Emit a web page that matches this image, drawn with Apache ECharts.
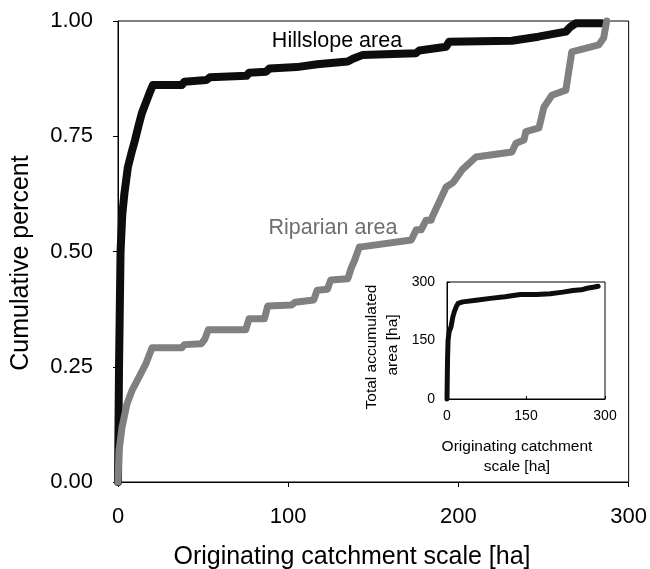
<!DOCTYPE html>
<html>
<head>
<meta charset="utf-8">
<script src="https://cdn.jsdelivr.net/npm/echarts@6/dist/echarts.min.js"></script>
<style>
html,body{margin:0;padding:0;background:#fff;}
#chart{width:650px;height:569px;}
</style>
</head>
<body>
<div id="chart"></div>
<script>
// Main chart: cumulative percent vs originating catchment scale [ha]
const hillslopeX = [0, 0.6, 1.5, 2.5, 3.8, 5.8, 8, 10, 12, 14, 17, 19, 20.5, 37.5, 39, 52, 54, 75.6, 77, 87, 89, 105, 117, 135, 138, 143.5, 175, 177, 192.8, 194.5, 231.4, 247, 263.1, 266, 268.9, 284.2];
const hillslopeY = [0, 0.25, 0.5, 0.58, 0.627, 0.683, 0.715, 0.742, 0.772, 0.80, 0.829, 0.848, 0.861, 0.861, 0.868, 0.872, 0.878, 0.881, 0.888, 0.89, 0.897, 0.90, 0.906, 0.912, 0.918, 0.926, 0.93, 0.936, 0.944, 0.955, 0.957, 0.966, 0.977, 0.988, 0.995, 0.995];

const riparianX = [0, 0.6, 2.3, 5.3, 8.2, 13.4, 16.3, 20, 37.5, 39, 49, 51, 53, 75, 77, 86, 88, 102, 104, 115, 117, 123, 125, 135, 137, 138.9, 141.8, 143, 172.3, 175.2, 178.1, 181, 184, 184.6, 192.8, 197, 202.1, 210.3, 231.4, 233.8, 238.5, 239.6, 247.3, 250.2, 254.9, 263.1, 266.6, 282.4, 285.3, 287.1];
const riparianY = [0, 0.067, 0.117, 0.17, 0.198, 0.235, 0.256, 0.291, 0.291, 0.298, 0.300, 0.310, 0.330, 0.330, 0.354, 0.354, 0.382, 0.384, 0.390, 0.395, 0.416, 0.418, 0.438, 0.441, 0.464, 0.48, 0.51, 0.51, 0.525, 0.547, 0.547, 0.568, 0.568, 0.575, 0.64, 0.65, 0.677, 0.705, 0.716, 0.735, 0.742, 0.76, 0.768, 0.813, 0.839, 0.85, 0.933, 0.948, 0.963, 1.0];

const mainXTicks = [0, 100, 200, 300];
const mainYTicks = ['0.00', '0.25', '0.50', '0.75', '1.00'];

// Inset: total accumulated area [ha] vs originating catchment scale [ha]
const insetX = [0, 0.5, 1, 2, 4, 7.6, 11, 14, 18, 21, 30, 55, 82, 110, 139, 170, 196, 220, 239, 255, 266, 280, 287];
const insetY = [0, 50, 100, 150, 172, 185, 210, 224, 238, 245, 249, 253, 258, 262, 268, 268, 270, 274, 278, 280, 284, 287, 289];
const insetTicks = [0, 150, 300];

const FONT = "'Liberation Sans', Arial, sans-serif";

function pairs(xs, ys) { return xs.map((x, i) => [x, ys[i]]); }

const chart = echarts.init(document.getElementById('chart'), null, {renderer: 'canvas'});

chart.setOption({
  animation: false,
  backgroundColor: '#ffffff',
  grid: [
    {left: 118, top: 21, width: 512, height: 461, show: true, borderColor: '#000', borderWidth: 1, backgroundColor: 'transparent'},
    {left: 447, top: 282, width: 158, height: 117, show: true, borderColor: '#000', borderWidth: 1, backgroundColor: 'transparent'}
  ],
  xAxis: [
    {
      gridIndex: 0, type: 'value', min: 0, max: 300, interval: 100,
      axisLine: {show: true, onZero: false, lineStyle: {color: '#000', width: 1}},
      axisTick: {show: true, inside: false, length: 5, lineStyle: {color: '#000'}},
      splitLine: {show: false},
      axisLabel: {fontSize: 22, fontFamily: FONT, color: '#000', margin: 24,
        formatter: v => mainXTicks.includes(v) ? String(v) : ''}
    },
    {
      gridIndex: 1, type: 'value', min: 0, max: 300, interval: 150,
      axisLine: {show: true, onZero: false, lineStyle: {color: '#000', width: 1}},
      axisTick: {show: true, inside: true, length: 3, lineStyle: {color: '#000'}},
      splitLine: {show: false},
      axisLabel: {fontSize: 14, fontFamily: FONT, color: '#000', margin: 10,
        formatter: v => insetTicks.includes(v) ? String(v) : ''}
    }
  ],
  yAxis: [
    {
      gridIndex: 0, type: 'value', min: 0, max: 1, interval: 0.25,
      axisLine: {show: true, onZero: false, lineStyle: {color: '#000', width: 1}},
      axisTick: {show: true, inside: false, length: 5, lineStyle: {color: '#000'}},
      splitLine: {show: false},
      axisLabel: {fontSize: 22, fontFamily: FONT, color: '#000', margin: 25,
        formatter: v => { const s = v.toFixed(2); return mainYTicks.includes(s) ? s : ''; }}
    },
    {
      gridIndex: 1, type: 'value', min: 0, max: 300, interval: 150,
      axisLine: {show: true, onZero: false, lineStyle: {color: '#000', width: 1}},
      axisTick: {show: true, inside: true, length: 3, lineStyle: {color: '#000'}},
      splitLine: {show: false},
      axisLabel: {fontSize: 14, fontFamily: FONT, color: '#000', margin: 12,
        formatter: v => insetTicks.includes(v) ? String(v) : ''}
    }
  ],
  series: [
    {
      name: 'Hillslope area', type: 'line', xAxisIndex: 0, yAxisIndex: 0,
      data: pairs(hillslopeX, hillslopeY), showSymbol: false, clip: false,
      lineStyle: {color: '#0d0d0d', width: 8, cap: 'round', join: 'round'}, z: 2
    },
    {
      name: 'Riparian area', type: 'line', xAxisIndex: 0, yAxisIndex: 0,
      data: pairs(riparianX, riparianY), showSymbol: false, clip: false,
      lineStyle: {color: '#808080', width: 7, cap: 'round', join: 'round'}, z: 3
    },
    {
      name: 'Total accumulated', type: 'line', xAxisIndex: 1, yAxisIndex: 1,
      data: pairs(insetX, insetY), showSymbol: false, clip: false,
      lineStyle: {color: '#0d0d0d', width: 5, cap: 'round', join: 'round'}, z: 4
    }
  ],
  graphic: [
    {type: 'text', x: 352, y: 557, style: {text: 'Originating catchment scale [ha]', font: '25px ' + FONT, fill: '#000', align: 'center', verticalAlign: 'middle'}},
    {type: 'text', x: 21, y: 263, rotation: Math.PI / 2, style: {text: 'Cumulative percent', font: '25px ' + FONT, fill: '#000', align: 'center', verticalAlign: 'middle'}},
    {type: 'text', x: 337, y: 41, style: {text: 'Hillslope area', font: '21.5px ' + FONT, fill: '#000', align: 'center', verticalAlign: 'middle'}},
    {type: 'text', x: 333, y: 228, style: {text: 'Riparian area', font: '21.5px ' + FONT, fill: '#6e6e6e', align: 'center', verticalAlign: 'middle'}},
    {type: 'text', x: 517, y: 447, style: {text: 'Originating catchment', font: '15.5px ' + FONT, fill: '#000', align: 'center', verticalAlign: 'middle'}},
    {type: 'text', x: 517, y: 467, style: {text: 'scale [ha]', font: '15.5px ' + FONT, fill: '#000', align: 'center', verticalAlign: 'middle'}},
    {type: 'text', x: 372, y: 347, rotation: Math.PI / 2, style: {text: 'Total accumulated', font: '15.5px ' + FONT, fill: '#000', align: 'center', verticalAlign: 'middle'}},
    {type: 'text', x: 393, y: 345, rotation: Math.PI / 2, style: {text: 'area [ha]', font: '15.5px ' + FONT, fill: '#000', align: 'center', verticalAlign: 'middle'}}
  ]
});
</script>
</body>
</html>
